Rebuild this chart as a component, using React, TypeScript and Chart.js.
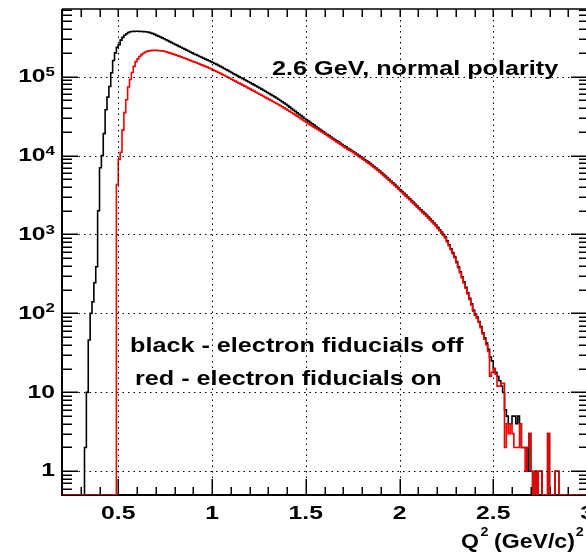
import React, { useEffect, useRef } from "react";
import { Chart, registerables } from "chart.js";

Chart.register(...registerables);

// ---------------- data ----------------
const BIN_START = 0.2;
const BIN_WIDTH = 0.01;
const X_MIN = 0.2;
const X_MAX = 3.0;
const Y_MIN = 0.5;
const Y_MAX = 7.2e5;

const X_MAJOR_TICKS = [0.5, 1, 1.5, 2, 2.5, 3];
const X_TICK_LABELS = ["0.5", "1", "1.5", "2", "2.5", "3"];
const Y_DECADES = [0, 1, 2, 3, 4, 5];

const TITLE_TEXT = "2.6 GeV, normal polarity";
const LEGEND_LINES = ["black - electron fiducials off", "red - electron fiducials on"];

// counts per 0.01 bin, from Q2 = 0.20 to 3.00 (electron fiducials off)
const blackCounts = [
  0, 0, 0, 0, 0, 0, 0, 0, 0, 0,
  0, 0, 0, 2, 10, 46, 100, 140, 245, 390,
  2000, 7000, 10000, 19000, 38000, 55000, 75000, 112000, 160000, 200000,
  235000, 255000, 290000, 315000, 335000, 350000, 362000, 370000, 373000, 375000,
  376000, 376000, 375000, 374000, 372000, 370000, 368000, 364000, 358000, 351000,
  343000, 334000, 326000, 318000, 310000, 302000, 294000, 286000, 278000, 270000,
  263000, 256000, 249000, 242000, 236000, 229000, 223000, 217000, 211000, 205000,
  200000, 194000, 190000, 185000, 180000, 176000, 171000, 167000, 163000, 159000,
  155000, 151000, 147000, 143000, 139000, 135000, 131000, 127000, 123000, 120000,
  116000, 113000, 109000, 106000, 103000, 100000, 97000, 94200, 91400, 88700,
  86100, 83600, 81100, 78700, 76400, 74100, 71800, 69500, 67300, 65200,
  63100, 61100, 59200, 57300, 55500, 53700, 51800, 49900, 48100, 46300,
  44700, 42900, 41100, 39400, 37800, 36300, 34800, 33400, 32100, 30800,
  29500, 28400, 27300, 26200, 25200, 24300, 23300, 22400, 21600, 20700,
  20000, 19200, 18500, 17900, 17200, 16600, 16000, 15400, 14900, 14300,
  13800, 13300, 12900, 12400, 12000, 11600, 11200, 10800, 10400, 10000,
  9660, 9290, 8930, 8590, 8260, 7940, 7600, 7280, 6970, 6670,
  6380, 6080, 5790, 5520, 5260, 5010, 4760, 4530, 4310, 4090,
  3890, 3690, 3500, 3320, 3150, 2990, 2830, 2690, 2550, 2420,
  2290, 2170, 2060, 1950, 1850, 1760, 1660, 1570, 1480, 1400,
  1320, 1230, 1150, 1070, 1000, 933, 832, 741, 661, 589,
  525, 453, 391, 337, 291, 251, 214, 182, 155, 132,
  110, 98, 90, 79, 68, 57, 49, 42, 35, 28,
  25, 20, 18, 16, 14, 12, 10, 6, 5, 4,
  4, 5, 5, 4, 5, 4, 2, 2, 2, 1,
  3, 1, 0, 1, 0, 1, 1, 0, 0, 0,
  3, 0, 0, 0, 1, 1, 0, 0, 0, 0,
  0, 0, 0, 0, 0, 0, 0, 0, 0, 0,
];

// counts per 0.01 bin, from Q2 = 0.20 to 3.00 (electron fiducials on)
const redCounts = [
  0, 0, 0, 0, 0, 0, 0, 0, 0, 0,
  0, 0, 0, 0, 0, 0, 0, 0, 0, 0,
  0, 0, 0, 0, 0, 0, 0, 0, 0, 0,
  4300, 8900, 11000, 21000, 35000, 51000, 74000, 92000, 113000, 135000,
  155000, 168000, 180000, 190000, 198000, 205000, 209000, 212000, 214000, 215000,
  215000, 215000, 214000, 213000, 212000, 210000, 207000, 203000, 200000, 196000,
  193000, 189000, 185000, 182000, 178000, 175000, 171000, 168000, 164000, 161000,
  157000, 154000, 151000, 148000, 144000, 141000, 138000, 135000, 132000, 129000,
  126000, 122000, 119000, 116000, 113000, 110000, 107000, 104000, 101000, 98200,
  95500, 92900, 90200, 87700, 85100, 82800, 80400, 78200, 75900, 73800,
  71600, 69500, 67500, 65500, 63500, 61700, 59800, 58100, 56400, 54700,
  53100, 51500, 50000, 48500, 47100, 45700, 44300, 42900, 41500, 40200,
  38900, 37600, 36300, 35100, 33900, 32700, 31600, 30400, 29300, 28200,
  27200, 26300, 25400, 24500, 23700, 22900, 22100, 21400, 20700, 20000,
  19300, 18600, 18000, 17400, 16700, 16100, 15500, 14900, 14500, 13900,
  13400, 12900, 12500, 12000, 11600, 11300, 10900, 10500, 10100, 9700,
  9370, 9010, 8660, 8330, 8010, 7700, 7370, 7060, 6760, 6470,
  6190, 5900, 5620, 5350, 5100, 4860, 4620, 4390, 4180, 3970,
  3770, 3580, 3400, 3220, 3060, 2900, 2750, 2610, 2470, 2350,
  2220, 2100, 2000, 1890, 1790, 1710, 1610, 1520, 1440, 1360,
  1280, 1190, 1120, 1040, 970, 905, 807, 719, 641, 571,
  509, 440, 379, 327, 282, 243, 208, 177, 150, 128,
  107, 95, 87, 77, 66, 55, 47, 40, 33, 16,
  18, 20, 17, 12, 12, 13, 13, 2, 4, 3,
  4, 3, 2, 2, 2, 4, 2, 2, 1, 2,
  3, 1, 0, 1, 0, 1, 1, 0, 0, 0,
  3, 0, 0, 0, 1, 1, 0, 0, 0, 0,
  0, 0, 0, 0, 0, 0, 0, 0, 0, 0,
];

// ---------------- helpers ----------------
const FONT = '"Liberation Sans", Arial, Helvetica, sans-serif';
const SX_LABEL = 1.3;
const SX_TEXT = 1.2;

function toSteps(counts: number[]) {
  // empty bins are drawn on the lower frame edge, as ROOT does on a log axis
  const pts = counts.map((c, i) => ({ x: BIN_START + i * BIN_WIDTH, y: Math.max(c, Y_MIN) }));
  pts.push({ x: BIN_START + counts.length * BIN_WIDTH, y: Math.max(counts[counts.length - 1], Y_MIN) });
  return pts;
}

function drawText(ctx: CanvasRenderingContext2D, text: string, x: number, y: number, size: number, sx: number,
  align: CanvasTextAlign = "left", baseline: CanvasTextBaseline = "alphabetic") {
  ctx.save();
  ctx.font = `bold ${size}px ${FONT}`;
  ctx.textAlign = align;
  ctx.textBaseline = baseline;
  ctx.fillStyle = "#000";
  ctx.translate(x, y);
  ctx.scale(sx, 1);
  ctx.fillText(text, 0, 0);
  ctx.restore();
}

function textWidth(ctx: CanvasRenderingContext2D, text: string, size: number, sx: number) {
  ctx.save();
  ctx.font = `bold ${size}px ${FONT}`;
  const w = ctx.measureText(text).width * sx;
  ctx.restore();
  return w;
}

function line(ctx: CanvasRenderingContext2D, x1: number, y1: number, x2: number, y2: number) {
  ctx.beginPath();
  ctx.moveTo(x1, y1);
  ctx.lineTo(x2, y2);
  ctx.stroke();
}

const rootFramePlugin = {
  id: "rootFrame",
  beforeDatasetsDraw(chart: any) {
    const { ctx, chartArea: a, scales } = chart;
    const xs = scales.x;
    const ys = scales.y;
    ctx.save();
    ctx.strokeStyle = "#000";
    // frame
    ctx.lineWidth = 2;
    line(ctx, a.left, a.top, a.left, a.bottom + 1);
    line(ctx, a.left - 1, a.bottom, a.right, a.bottom);
    ctx.lineWidth = 1.5;
    line(ctx, a.left, a.top, a.right, a.top);
    line(ctx, a.right, a.top, a.right, a.bottom);
    // x ticks
    ctx.lineWidth = 1.5;
    for (let i = 3; i <= 30; i++) {
      const v = i / 10;
      const px = Math.round(xs.getPixelForValue(v)) + 0.25;
      const major = i % 5 === 0;
      line(ctx, px, a.bottom, px, a.bottom - (major ? 16 : 8));
      line(ctx, px, a.top, px, a.top + 8);
    }
    // y ticks
    for (let k = -1; k <= 5; k++) {
      for (let m = 1; m <= 9; m++) {
        const v = m * Math.pow(10, k);
        if (v < Y_MIN || v > Y_MAX) continue;
        const py = Math.round(ys.getPixelForValue(v)) + 0.25;
        const major = m === 1;
        line(ctx, a.left, py, a.left + (major ? 16 : 10), py);
        line(ctx, a.right, py, a.right - (major ? 16 : 8), py);
      }
    }
    ctx.restore();
  },
  afterDatasetsDraw(chart: any) {
    const { ctx, chartArea: a, scales } = chart;
    const xs = scales.x;
    const ys = scales.y;
    ctx.save();
    // dotted grid
    ctx.strokeStyle = "#000";
    ctx.lineWidth = 1;
    ctx.setLineDash([1.5, 4]);
    X_MAJOR_TICKS.forEach((v) => {
      const px = Math.round(xs.getPixelForValue(v)) + 0.5;
      if (px < a.right - 1) line(ctx, px, a.top, px, a.bottom);
    });
    Y_DECADES.forEach((k) => {
      const py = Math.round(ys.getPixelForValue(Math.pow(10, k))) + 0.5;
      line(ctx, a.left, py, a.right, py);
    });
    ctx.setLineDash([]);

    // x tick labels
    X_MAJOR_TICKS.forEach((v, i) => {
      drawText(ctx, X_TICK_LABELS[i], xs.getPixelForValue(v), 519, 19, SX_LABEL, "center", "alphabetic");
    });
    // y tick labels
    const R = 55;
    Y_DECADES.forEach((k) => {
      const py = ys.getPixelForValue(Math.pow(10, k));
      if (k === 0) drawText(ctx, "1", R, py, 19, SX_LABEL, "right", "middle");
      else if (k === 1) drawText(ctx, "10", R, py, 19, SX_LABEL, "right", "middle");
      else {
        const exp = String(k);
        const ew = textWidth(ctx, exp, 13, SX_LABEL);
        drawText(ctx, "10", R - ew, py, 19, SX_LABEL, "right", "middle");
        drawText(ctx, exp, R, py - 4.5, 13, SX_LABEL, "right", "middle");
      }
    });

    // axis title: Q^2 (GeV/c)^2
    const tx = 461;
    const tb = 548;
    drawText(ctx, "Q", tx, tb, 21, 1.1);
    const qw = textWidth(ctx, "Q", 21, 1.1);
    drawText(ctx, "2", tx + qw + 1.5, tb - 12, 13, 1.1);
    const unitX = tx + qw + 15;
    drawText(ctx, "(GeV/c)", unitX, tb, 21, 1.1);
    const uw = textWidth(ctx, "(GeV/c)", 21, 1.1);
    drawText(ctx, "2", unitX + uw + 1, tb - 12, 13, 1.1);

    // texts inside the frame
    drawText(ctx, TITLE_TEXT, 272, 75, 21, SX_TEXT);
    drawText(ctx, LEGEND_LINES[0], 130, 352, 21, SX_TEXT);
    drawText(ctx, LEGEND_LINES[1], 135, 385, 21, SX_TEXT);
    ctx.restore();
  },
};

export default function App() {
  const canvasRef = useRef<HTMLCanvasElement | null>(null);

  useEffect(() => {
    const canvas = canvasRef.current;
    if (!canvas) return;
    const chart = new Chart(canvas, {
      type: "line",
      data: {
        datasets: [
          {
            label: "electron fiducials off",
            data: toSteps(blackCounts),
            borderColor: "#000000",
            borderWidth: 1.6,
            stepped: "after",
            pointRadius: 0,
            fill: false,
            order: 1,
          },
          {
            label: "electron fiducials on",
            data: toSteps(redCounts),
            borderColor: "#ee0000",
            borderWidth: 1.6,
            stepped: "after",
            pointRadius: 0,
            fill: false,
            order: 0,
          },
        ],
      },
      options: {
        animation: false,
        responsive: false,
        devicePixelRatio: 1,
        layout: { padding: { left: 62, top: 9, right: 13, bottom: 57 } },
        plugins: { legend: { display: false }, tooltip: { enabled: false } },
        scales: {
          x: { type: "linear", min: X_MIN, max: X_MAX, bounds: "data", display: false },
          y: { type: "logarithmic", min: Y_MIN, max: Y_MAX, bounds: "data", display: false },
        },
        elements: { line: { tension: 0 } },
      },
      plugins: [rootFramePlugin],
    } as any);
    return () => chart.destroy();
  }, []);

  return (
    <div style={{ position: "absolute", left: 0, top: 0, width: 586, height: 552, overflow: "hidden", background: "#fff" }}>
      <canvas ref={canvasRef} width={600} height={552} style={{ display: "block" }} />
    </div>
  );
}
